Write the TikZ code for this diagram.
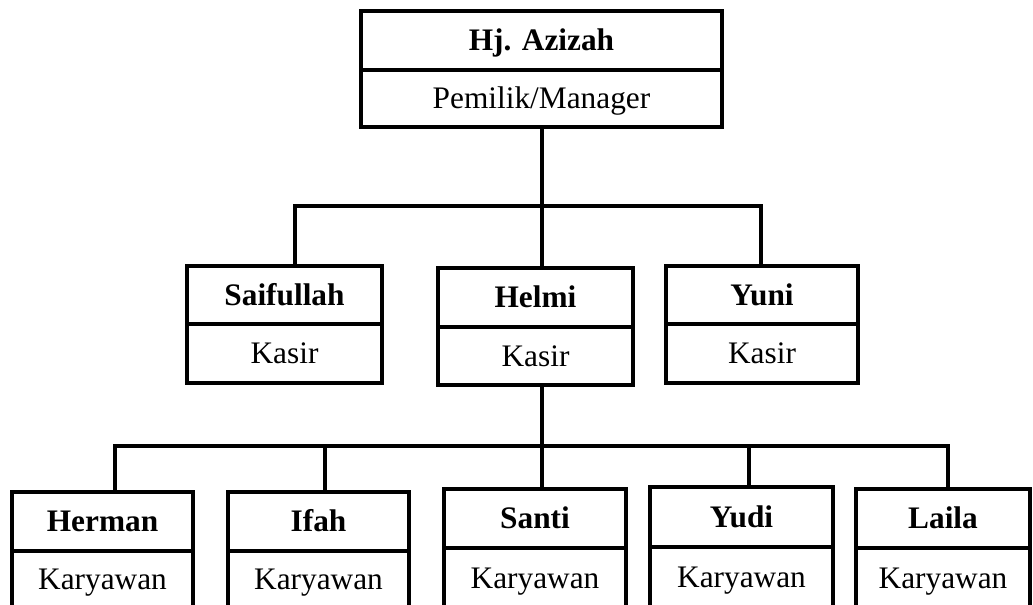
\documentclass[tikz,border=0pt]{standalone}
\usepackage{fontspec}
\setmainfont{Liberation Serif}
\tikzset{
  boxline/.style={draw=black, line width=2.3pt},
  connline/.style={draw=black, line width=2.3pt},
  orgbox/.style={boxline, inner sep=0pt, outer sep=0pt},
  titletext/.style={anchor=base, inner sep=0pt, font=\fontsize{23.5}{28}\selectfont\bfseries},
  roletext/.style={anchor=base, inner sep=0pt, font=\fontsize{23.5}{28}\selectfont},
}
% #1 name, #2 left, #3 top, #4 divider, #5 right, #6 bottom, #7 title, #8 role
\newcommand\obox[8]{%
  \node[orgbox, minimum width={(#5-#2)*0.75pt}, minimum height={(#6-#3)*0.75pt}]
    (#1) at ({(#2+#5)/2},{(#3+#6)/2}) {};
  \draw[boxline] (#1.west |- 0,#4) -- (#1.east |- 0,#4);
  \node[titletext] (#1-t) at ({(#2+#5)/2},{(#3+#4)/2+10.5}) {#7};
  \node[roletext] (#1-r) at ({(#2+#5)/2},{(#4+#6)/2+10.5}) {#8};
}
\begin{document}
\begin{tikzpicture}[x=0.75pt,y=-0.75pt]
\clip (0,0) rectangle (1033,605);
\fill[white] (0,0) rectangle (1033,605);

\obox{azizah}{361}{11}{70}{722}{127}{Hj. Azizah}{Pemilik/Manager}

\obox{saif}{187}{266}{324}{382}{383}{Saifullah}{Kasir}
\obox{helmi}{438}{268}{327}{633}{385}{Helmi}{Kasir}
\obox{yuni}{666}{266}{324}{858}{383}{Yuni}{Kasir}

\obox{herman}{12}{492}{551}{193}{608}{Herman}{Karyawan}
\obox{ifah}{228}{492}{551}{409}{608}{Ifah}{Karyawan}
\obox{santi}{444}{489}{548}{626}{608}{Santi}{Karyawan}
\obox{yudi}{650}{487}{547}{833}{608}{Yudi}{Karyawan}
\obox{laila}{856}{489}{548}{1030}{608}{Laila}{Karyawan}

% first level connectors
\coordinate (b1l) at (295,206);
\coordinate (b1m) at (542,206);
\coordinate (b1r) at (761,206);
\draw[connline] (b1m |- azizah.south) -- (b1m |- helmi.north);
\draw[connline] (b1l |- saif.north) -- (b1l) -- (b1r) -- (b1r |- yuni.north);

% second level connectors
\coordinate (b2a) at (115,446);
\coordinate (b2b) at (325,446);
\coordinate (b2c) at (542,446);
\coordinate (b2d) at (749,446);
\coordinate (b2e) at (948,446);
\draw[connline] (b2c |- helmi.south) -- (b2c |- santi.north);
\draw[connline] (b2a |- herman.north) -- (b2a) -- (b2e) -- (b2e |- laila.north);
\draw[connline] (b2b) -- (b2b |- ifah.north);
\draw[connline] (b2d) -- (b2d |- yudi.north);
\end{tikzpicture}
\end{document}
